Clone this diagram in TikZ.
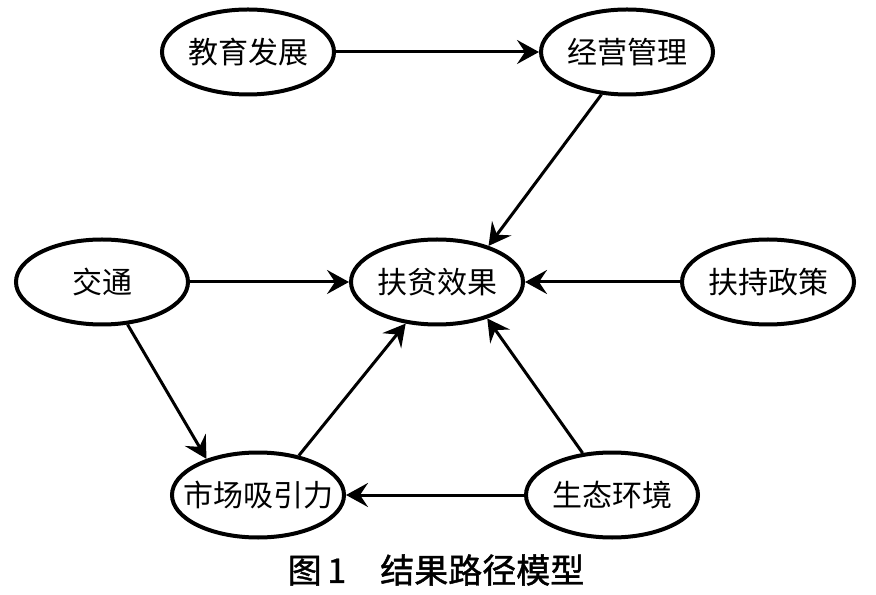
\documentclass[tikz,border=0pt]{standalone}
\usepackage{fontspec}
\setmainfont{Noto Sans CJK SC}
\newfontfamily\capfont{Noto Sans CJK SC}[FakeBold=1.2]
\usetikzlibrary{shapes.geometric,arrows.meta}

\begin{document}
\begin{tikzpicture}
	[
	x=0.5pt,y=0.5pt,
	factor/.style={ellipse,draw,line width=2pt,minimum width=86pt,minimum height=42.5pt,inner sep=0pt,font=\fontsize{15}{18}\selectfont},
	path/.style={line width=1.5pt,-{Stealth[length=11pt,width=12pt,inset=4pt]}},
	]
	\useasboundingbox (0,0) rectangle (876,594);
	\node [factor] (edu) at (248,542) {教育发展};
	\node [factor] (mgmt) at (627,542) {经营管理};
	\node [factor] (traffic) at (102,312) {交通};
	\node [factor] (effect) at (437,312) {扶贫效果};
	\node [factor] (policy) at (768,312) {扶持政策};
	\node [factor,inner xsep=-7.5pt] (market) at (258,99) {市场吸引力};
	\node [factor] (ecology) at (612,99) {生态环境};
	\node [font=\capfont\fontsize{17}{20}\selectfont] (caption) at (436,24) {图\,1\quad 结果路径模型};
	% paths
	\draw [path] (edu.east) -- (mgmt.west);
	\draw [path] (mgmt.239) -- (effect.35);
	\draw [path] (traffic.east) -- (effect.west);
	\draw [path] (policy.west) -- (effect.east);
	\draw [path] (traffic.301) -- (market.145);
	\draw [path] (market.44) -- (effect.233);
	\draw [path] (ecology.125) -- (effect.324);
	\draw [path] (ecology.west) -- (market.east);
\end{tikzpicture}
\end{document}
